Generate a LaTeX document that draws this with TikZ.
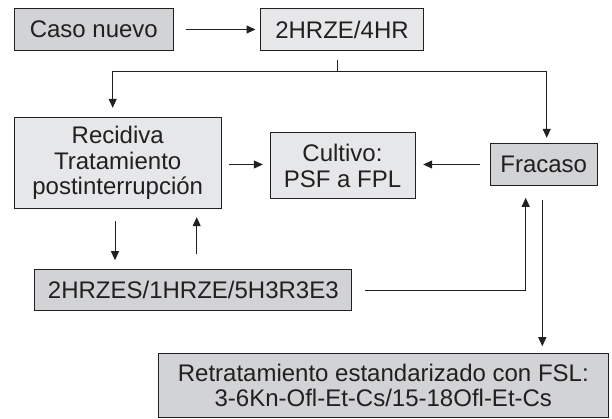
\documentclass[tikz,border=0pt]{standalone}
\usepackage{fontspec}
\setmainfont{Liberation Sans}
\usetikzlibrary{arrows.meta,calc}
\definecolor{dk}{HTML}{D2D3D5}
\definecolor{lt}{HTML}{E6E7E8}
\definecolor{ink}{HTML}{231F20}
\begin{document}
\begin{tikzpicture}[x=1pt,y=-1pt,
  box/.style={draw=ink,line width=1pt,text=ink,align=center,inner sep=0pt,
    font=\fontsize{24}{25.5}\selectfont},
  dbox/.style={box,fill=dk},
  lbox/.style={box,fill=lt},
  conn/.style={draw=ink,line width=1pt},
  arr/.style={conn,-{Triangle[length=9pt,width=8pt]}}]
\useasboundingbox (0,0) rectangle (612,419);
\node[dbox,minimum width=159pt,minimum height=42.4pt] (caso) at (93.8,29.5) {Caso nuevo};
\node[lbox,minimum width=162.6pt,minimum height=42.4pt] (hrze) at (342,29.5) {2HRZE/4HR};
\node[lbox,minimum width=206.7pt,minimum height=91pt] (recid) at (117.7,162.8) {Recidiva\\Tratamiento\\postinterrupción};
\node[lbox,minimum width=145pt,minimum height=66.3pt] (cult) at (342.5,165.8) {Cultivo:\\PSF a FPL};
\node[dbox,minimum width=107.3pt,minimum height=42.4pt] (frac) at (543.7,164.5) {Fracaso};
\node[dbox,minimum width=316.7pt,minimum height=41.4pt] (rhz) at (193.3,290) {2HRZES/1HRZE/5H3R3E3};
\node[dbox,minimum width=450pt,minimum height=64.4pt] (retr) at (383.3,385.5) {Retratamiento estandarizado con FSL:\\3-6Kn-Ofl-Et-Cs/15-18Ofl-Et-Cs};
\coordinate (j) at (337.7,71.7);
\coordinate (jl) at (112.7,71.7);
\coordinate (jr) at (546.7,71.7);
\coordinate (xa) at (115,0);
\coordinate (xc) at (196.7,0);
\coordinate (xb) at (525.7,0);
\coordinate (xd) at (542.3,0);
\draw[arr,shorten <=11.7pt,shorten >=4.7pt] (caso.east) -- (hrze.west);
\draw[conn,shorten <=9.3pt] (j |- hrze.south) -- (j);
\draw[arr,shorten >=9pt] (j) -- (jl) -- (jl |- recid.north);
\draw[arr,shorten >=5pt] (j) -- (jr) -- (jr |- frac.north);
\draw[arr,shorten <=7.3pt,shorten >=6.7pt] (recid.east |- frac.west) -- (cult.west |- frac.west);
\draw[arr,shorten <=10pt,shorten >=7.7pt] (frac.west) -- (cult.east |- frac.west);
\draw[arr,shorten <=12.4pt,shorten >=8.6pt] (recid.south -| xa) -- (rhz.north -| xa);
\draw[arr,shorten <=14.3pt,shorten >=8.4pt] (rhz.north -| xc) -- (recid.south -| xc);
\draw[arr,shorten <=13.3pt,shorten >=11.6pt] (rhz.east) -| (frac.south -| xb);
\draw[arr,shorten <=14.3pt,shorten >=6.6pt] (frac.south -| xd) -- (retr.north -| xd);
\end{tikzpicture}
\end{document}
